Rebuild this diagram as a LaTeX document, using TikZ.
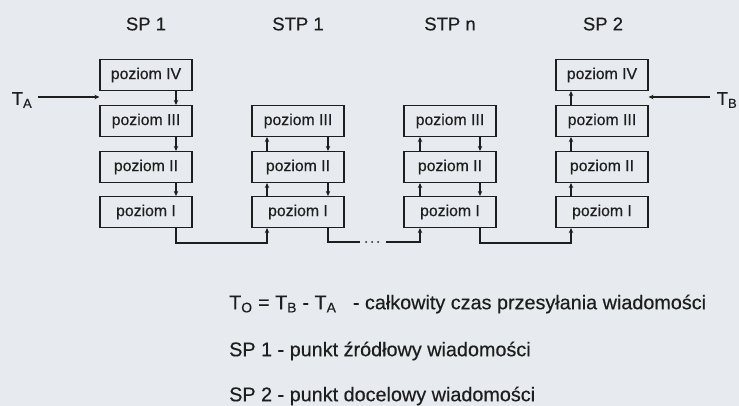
\documentclass[tikz,border=0pt]{standalone}
\usepackage{fontspec}
\setmainfont{Liberation Sans}[FakeBold=0.4]
\usetikzlibrary{arrows.meta}
\definecolor{paper}{HTML}{E7EBEF}
\definecolor{ink}{HTML}{1E1E1E}
\begin{document}
\begin{tikzpicture}[x=1pt,y=-1pt,
  level/.style={draw=ink,line width=1.1pt,minimum width=92pt,minimum height=31pt,
    inner sep=0pt,font=\fontsize{15.8}{18}\selectfont,text=ink},
  head/.style={font=\fontsize{18.5}{21}\selectfont,text=ink},
  note/.style={font=\fontsize{19.8}{23}\selectfont,text=ink,anchor=west,inner sep=0pt},
  link/.style={draw=ink,line width=1.1pt},
  arr/.style={link,-{Stealth[length=5pt,width=4.5pt]}}]
% page
\fill[paper] (0,0) rectangle (739,406);
\useasboundingbox (0,0) rectangle (739,406);

% column headings
\node[head] (h1) at (146,24) {SP 1};
\node[head] (h2) at (298,24) {STP 1};
\node[head] (h3) at (450,24) {STP n};
\node[head] (h4) at (603,24) {SP 2};

% SP 1 stack
\node[level] (a4) at (146,75)  {poziom IV};
\node[level] (a3) at (146,121) {poziom III};
\node[level] (a2) at (146,167) {poziom II};
\node[level] (a1) at (146,212) {poziom I};
% STP 1 stack
\node[level] (b3) at (298,121) {poziom III};
\node[level] (b2) at (298,167) {poziom II};
\node[level] (b1) at (298,212) {poziom I};
% STP n stack
\node[level] (c3) at (450,121) {poziom III};
\node[level] (c2) at (450,167) {poziom II};
\node[level] (c1) at (450,212) {poziom I};
% SP 2 stack
\node[level] (d4) at (602,75)  {poziom IV};
\node[level] (d3) at (602,121) {poziom III};
\node[level] (d2) at (602,167) {poziom II};
\node[level] (d1) at (602,212) {poziom I};

% down through SP 1
\draw[arr] ([xshift=30pt]a4.south) -- ([xshift=30pt]a3.north);
\draw[arr] ([xshift=30pt]a3.south) -- ([xshift=30pt]a2.north);
\draw[arr] ([xshift=30pt]a2.south) -- ([xshift=30pt]a1.north);
% STP 1: up on the left, down on the right
\draw[arr] ([xshift=-31pt]b1.north) -- ([xshift=-31pt]b2.south);
\draw[arr] ([xshift=-31pt]b2.north) -- ([xshift=-31pt]b3.south);
\draw[arr] ([xshift=30pt]b3.south) -- ([xshift=30pt]b2.north);
\draw[arr] ([xshift=30pt]b2.south) -- ([xshift=30pt]b1.north);
% STP n
\draw[arr] ([xshift=-30pt]c1.north) -- ([xshift=-30pt]c2.south);
\draw[arr] ([xshift=-30pt]c2.north) -- ([xshift=-30pt]c3.south);
\draw[arr] ([xshift=30pt]c3.south) -- ([xshift=30pt]c2.north);
\draw[arr] ([xshift=30pt]c2.south) -- ([xshift=30pt]c1.north);
% up through SP 2
\draw[arr] ([xshift=-31pt]d1.north) -- ([xshift=-31pt]d2.south);
\draw[arr] ([xshift=-31pt]d2.north) -- ([xshift=-31pt]d3.south);
\draw[arr] ([xshift=-31pt]d3.north) -- ([xshift=-31pt]d4.south);

% physical links along the bottom
\draw[arr] ([xshift=30pt]a1.south) -- ++(0,15) -| ([xshift=-31pt]b1.south);
\coordinate (gapL) at (360,242);
\coordinate (gapR) at (386,242);
\draw[link] ([xshift=30pt]b1.south) |- (gapL);
\foreach \x in {366,372,378} \fill[ink] (\x,242) circle (1pt);
\draw[arr] (gapR) -| ([xshift=-30pt]c1.south);
\draw[arr] ([xshift=30pt]c1.south) -- ++(0,15) -| ([xshift=-31pt]d1.south);

% start and end times
\node[head] (ta) at (22,100) {T\textsubscript{A}};
\coordinate (taS) at (38,97);
\draw[arr] (taS) -- (taS -| a4.west);
\node[head] (tb) at (727,100) {T\textsubscript{B}};
\coordinate (tbS) at (710,97);
\draw[arr] (tbS) -- (tbS -| d4.east);

% legend
\node[note] (l1) at (229,304) {T\textsubscript{O} = T\textsubscript{B} - T\textsubscript{A}\ \ \ - całkowity czas przesyłania wiadomości};
\node[note] (l2) at (229,351) {SP 1 - punkt źródłowy wiadomości};
\node[note] (l3) at (229,396) {SP 2 - punkt docelowy wiadomości};
\end{tikzpicture}
\end{document}
